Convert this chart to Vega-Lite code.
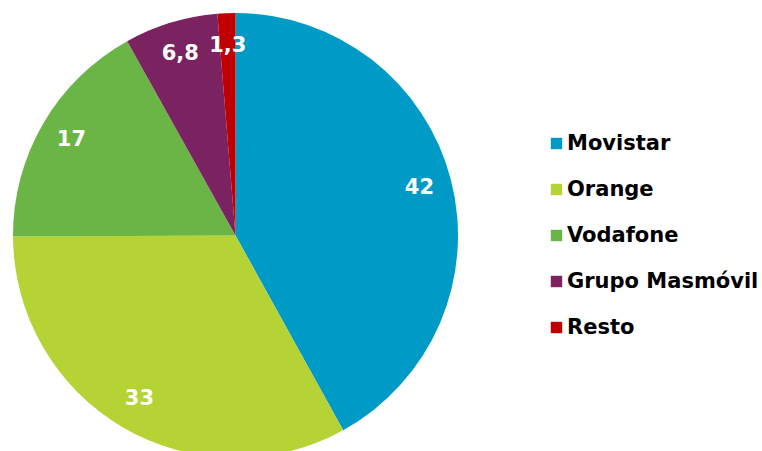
{
  "$schema": "https://vega.github.io/schema/vega-lite/v6.json",
  "width": 471,
  "height": 471,
  "autosize": {"type": "none"},
  "padding": {"left": 0, "top": 0, "right": 291, "bottom": 0},
  "background": "white",
  "config": {"view": {"stroke": null}},
  "data": {
    "values": [
      {"operador": "Movistar", "cuota": 42, "etiqueta": "42", "i": 1},
      {"operador": "Orange", "cuota": 33, "etiqueta": "33", "i": 2},
      {"operador": "Vodafone", "cuota": 17, "etiqueta": "17", "i": 3},
      {"operador": "Grupo Masmóvil", "cuota": 6.8, "etiqueta": "6,8", "i": 4},
      {"operador": "Resto", "cuota": 1.3, "etiqueta": "1,3", "i": 5}
    ]
  },
  "encoding": {
    "theta": {"field": "cuota", "type": "quantitative", "stack": true},
    "order": {"field": "i", "type": "quantitative"}
  },
  "layer": [
    {
      "mark": {"type": "arc", "outerRadius": 222.5},
      "encoding": {
        "color": {
          "field": "operador",
          "type": "nominal",
          "scale": {
            "domain": ["Movistar", "Orange", "Vodafone", "Grupo Masmóvil", "Resto"],
            "range": ["#009AC7", "#B5D335", "#6AB545", "#7B2360", "#C00000"]
          },
          "legend": {
            "title": null,
            "orient": "none",
            "legendX": 546,
            "legendY": 133,
            "symbolType": "square",
            "symbolSize": 130,
            "symbolStrokeWidth": 0,
            "labelFont": "DejaVu Sans",
            "labelFontWeight": "bold",
            "labelFontSize": 21,
            "labelColor": "black",
            "labelOffset": 0,
            "rowPadding": 24,
            "labelLimit": 300
          }
        }
      }
    },
    {
      "mark": {"type": "text", "radius": 190, "font": "DejaVu Sans", "fontWeight": "bold", "fontSize": 21, "fill": "white", "baseline": "middle", "align": "center"},
      "encoding": {
        "text": {"field": "etiqueta", "type": "nominal"}
      }
    }
  ]
}
